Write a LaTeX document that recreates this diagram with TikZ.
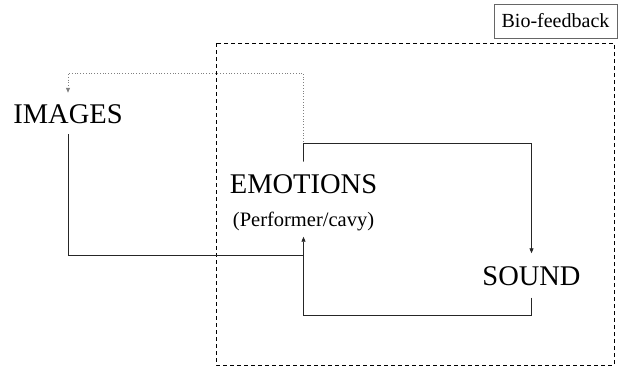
\documentclass[tikz,border=0pt]{standalone}
\usepackage{fontspec}
\setmainfont{Liberation Serif}
\usetikzlibrary{arrows.meta}
\begin{document}
\begin{tikzpicture}[x=1pt,y=-1pt,
  bigtxt/.style={font=\fontsize{28.5}{30}\selectfont, inner xsep=0pt, text height=19pt, text depth=0pt},
  conn/.style={draw=black!85, line width=0.8pt},
  tip/.style={-{Triangle[width=4pt,length=5pt]}},
  fb/.style={draw=gray, dotted, line width=0.8pt}]
\useasboundingbox (0,0) rectangle (619,368);
% bio-feedback region
\draw[black, line width=0.8pt, dash pattern=on 4pt off 3pt] (216,43) rectangle (614,365);
\node[draw=black!60, line width=0.8pt, minimum width=123pt, minimum height=34pt, inner sep=0pt,
      font=\fontsize{20}{22}\selectfont] (bio) at (555.5,21) {Bio-feedback};
% nodes
\node[bigtxt, inner ysep=11pt] (img) at (68,113.5) {IMAGES};
\node[bigtxt, inner ysep=12.5pt] (emo) at (303.5,183.5) {EMOTIONS};
\node[font=\fontsize{20.5}{22}\selectfont, inner xsep=0pt, inner ysep=6pt, text height=13pt, text depth=4pt] (perf) at (303.5,222) {(Performer/cavy)};
\node[bigtxt, inner ysep=12.5pt] (snd) at (531.5,275.5) {SOUND};
% helper coordinates
\coordinate (topy) at (0,73);
\coordinate (midy) at (0,143);
\coordinate (joiny) at (0,255);
\coordinate (lowy) at (0,315);
% connectors
\draw[fb, tip] (emo.north) -- (emo.north |- topy) -- (img.north |- topy) -- (img.north);
\draw[conn, tip] (emo.north) -- (emo.north |- midy) -- (snd.north |- midy) -- (snd.north);
\draw[conn] (img.south) -- (img.south |- joiny) -- (perf.south |- joiny);
\draw[conn, tip] (snd.south) -- (snd.south |- lowy) -- (perf.south |- lowy) -- (perf.south);
\end{tikzpicture}
\end{document}
